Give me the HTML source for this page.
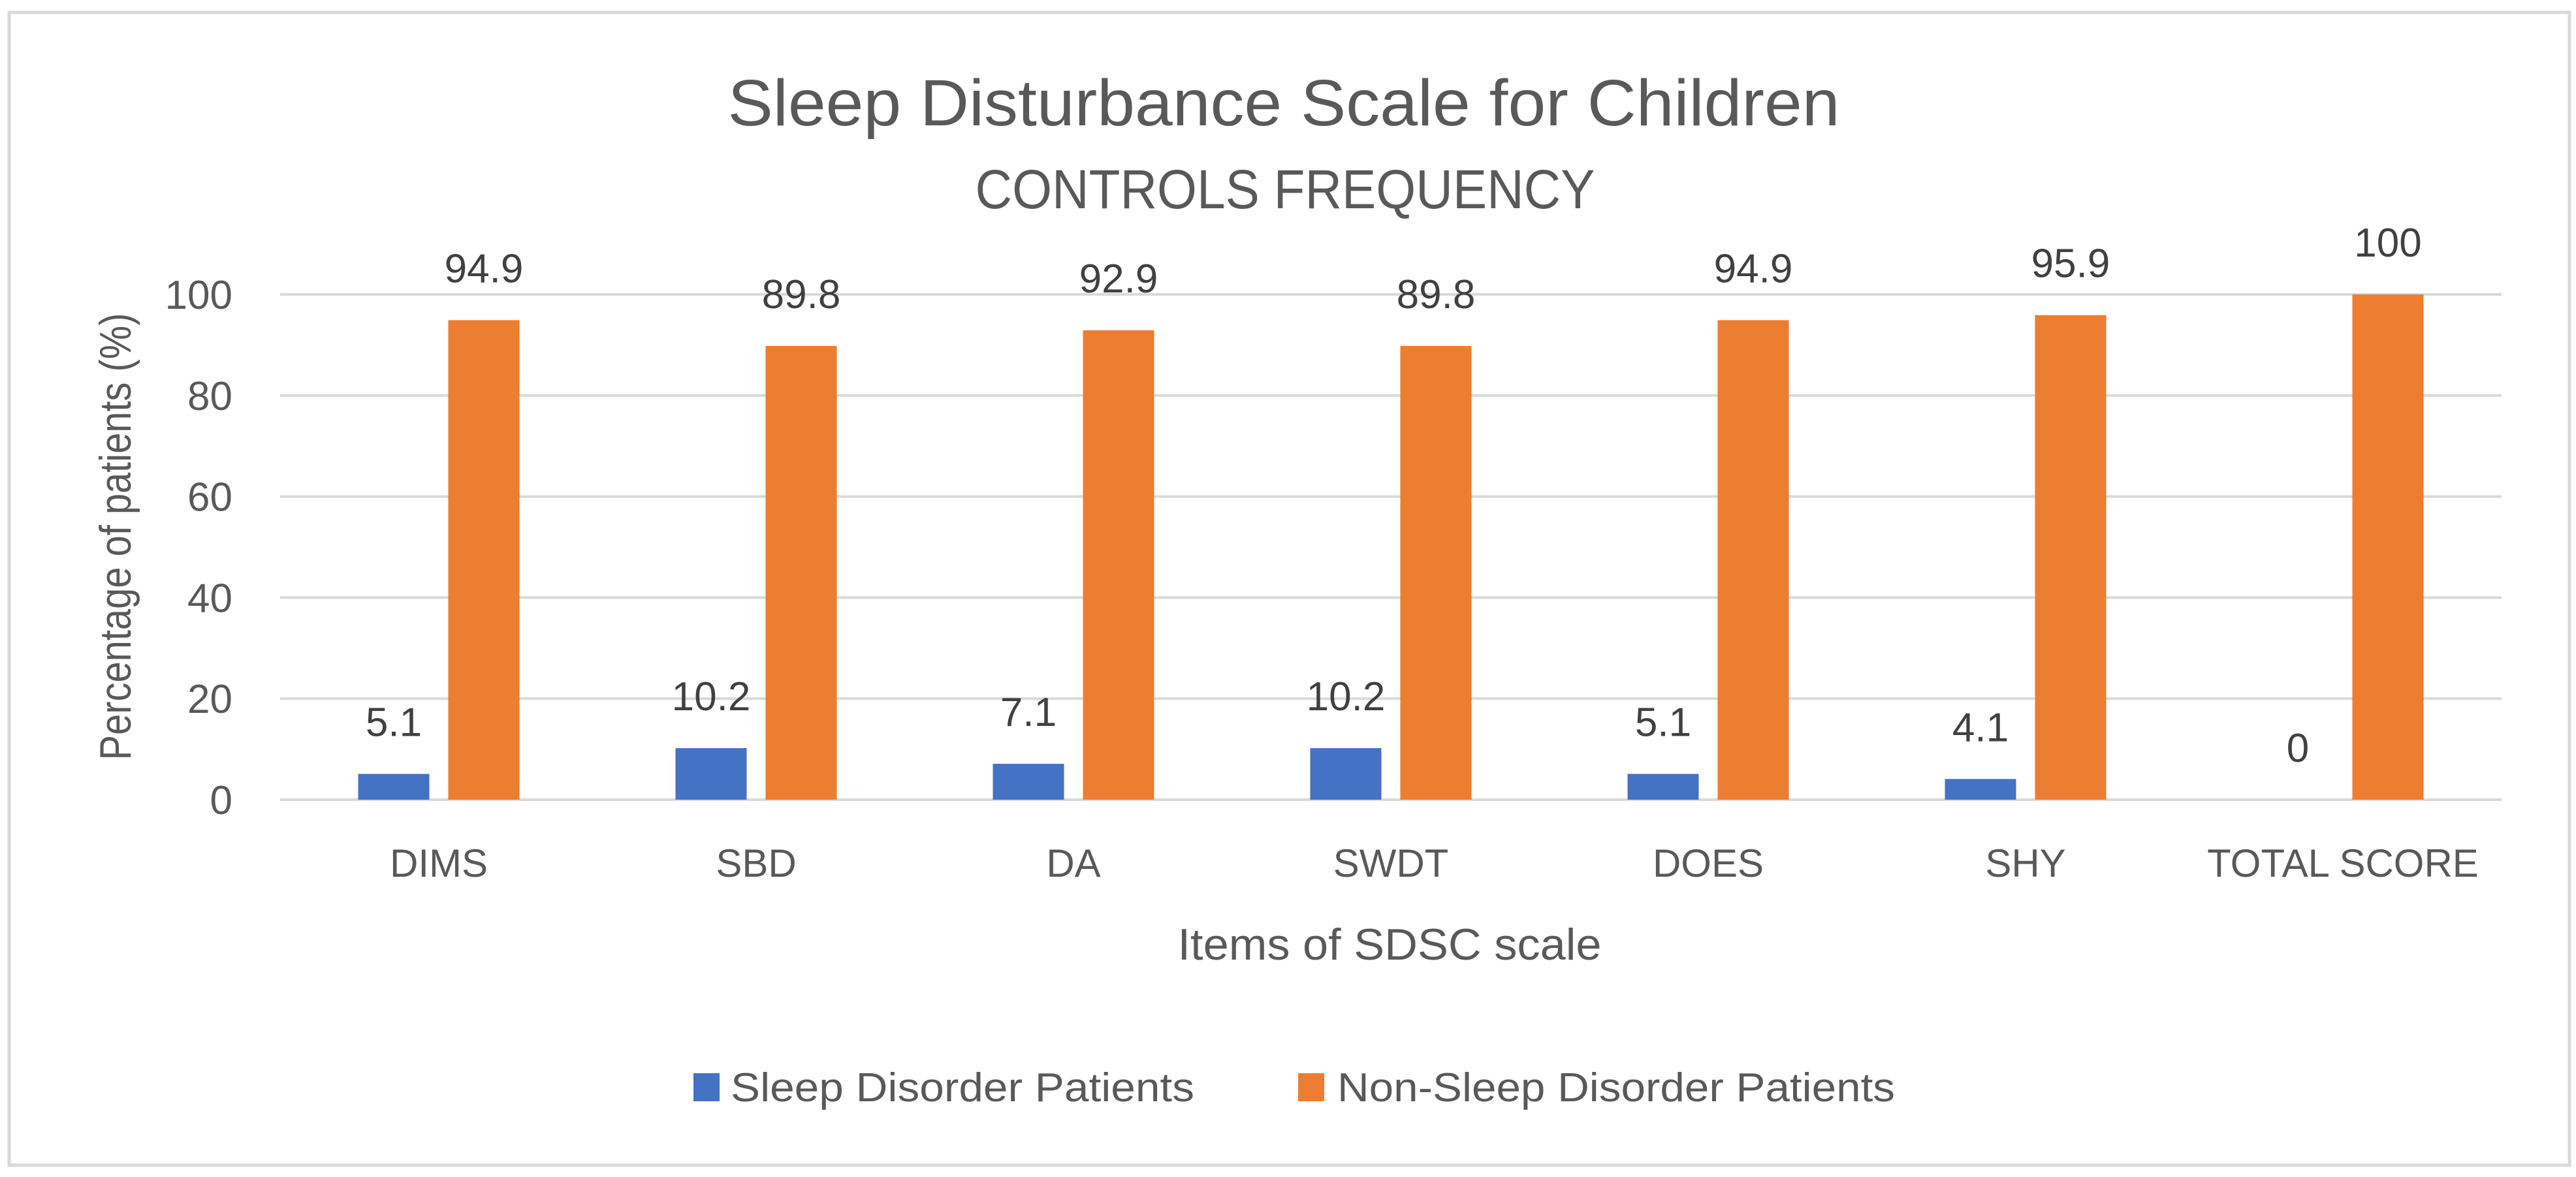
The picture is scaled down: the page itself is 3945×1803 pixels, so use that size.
<!DOCTYPE html>
<html><head><meta charset="utf-8"><style>
html,body{margin:0;padding:0;background:#fff;}
svg{display:block;font-family:"Liberation Sans",sans-serif;}
</style></head><body>
<svg id="chart" width="3945" height="1803" viewBox="0 0 3945 1803">
<rect x="14" y="19" width="3921" height="1766" fill="#fff" stroke="#d9d9d9" stroke-width="5"/>
<text x="1966" y="192" text-anchor="middle" font-size="100" fill="#595959" textLength="1703" lengthAdjust="spacingAndGlyphs">Sleep Disturbance Scale for Children</text>
<text x="1968" y="319" text-anchor="middle" font-size="84" fill="#595959" textLength="949" lengthAdjust="spacingAndGlyphs">CONTROLS FREQUENCY</text>
<g id="grid"></g>
<g id="bars"></g>
<g id="labels"></g>
<text transform="translate(200,822) rotate(-90)" text-anchor="middle" font-size="68" fill="#595959" textLength="685" lengthAdjust="spacingAndGlyphs">Percentage of patients (%)</text>
<text x="2128" y="1470" text-anchor="middle" font-size="68" fill="#595959" textLength="649" lengthAdjust="spacingAndGlyphs">Items of SDSC scale</text>
<g>
<rect x="1062" y="1644" width="40" height="43" fill="#4472c4"/>
<text x="1119" y="1687" font-size="62" fill="#595959" textLength="710" lengthAdjust="spacingAndGlyphs">Sleep Disorder Patients</text>
<rect x="1988" y="1644" width="40" height="43" fill="#ed7d31"/>
<text x="2048" y="1687" font-size="62" fill="#595959" textLength="854" lengthAdjust="spacingAndGlyphs">Non-Sleep Disorder Patients</text>
</g>
</svg>
<script>
const categories = ["DIMS","SBD","DA","SWDT","DOES","SHY","TOTAL SCORE"];
const sleepDisorder = [5.1,10.2,7.1,10.2,5.1,4.1,0];
const nonSleepDisorder = [94.9,89.8,92.9,89.8,94.9,95.9,100];
const yTicks = [0,20,40,60,80,100];

const NS = "http://www.w3.org/2000/svg";
const plotL = 429, plotR = 3831, y0px = 1225, y100px = 451;
const bandW = (plotR - plotL) / categories.length;
const barW = 109, off = 69;
function yScale(v){ return y0px - (v/100)*(y0px - y100px); }
function xCenter(i){ return plotL + bandW*(i+0.5); }
function mk(tag, attrs, parent){ const e=document.createElementNS(NS,tag); for(const k in attrs) e.setAttribute(k,attrs[k]); parent.appendChild(e); return e; }

const grid = document.getElementById('grid');
const bars = document.getElementById('bars');
const labels = document.getElementById('labels');

yTicks.forEach(t => {
  const l = mk('line',{x1:plotL,x2:plotR,y1:yScale(t),y2:yScale(t),stroke:'#d9d9d9','stroke-width':4},grid);
  
  
  const tx = mk('text',{x:356,y:yScale(t)+22,'text-anchor':'end','font-size':62,fill:'#595959'},grid);
  tx.textContent = String(t);
  
  
});

categories.forEach((c,i) => {
  const cx = xCenter(i);
  const series = [[sleepDisorder[i],'#4472c4',-off,'sleep-disorder'],[nonSleepDisorder[i],'#ed7d31',off,'non-sleep-disorder']];
  series.forEach(s => {
    const v=s[0], top=yScale(v);
    const r = mk('rect',{x:cx+s[2]-barW/2,y:top,width:barW,height:y0px-top,fill:s[1]},bars);
    
    
    const t = mk('text',{x:cx+s[2],y:top-58,'text-anchor':'middle','font-size':62,fill:'#404040'},labels);
    t.textContent = String(v);
    
    
  });
  const xl = mk('text',{x:cx,y:1343,'text-anchor':'middle','font-size':60,fill:'#595959'},labels);
  xl.textContent = c;
  
  
});
</script>
</body></html>
